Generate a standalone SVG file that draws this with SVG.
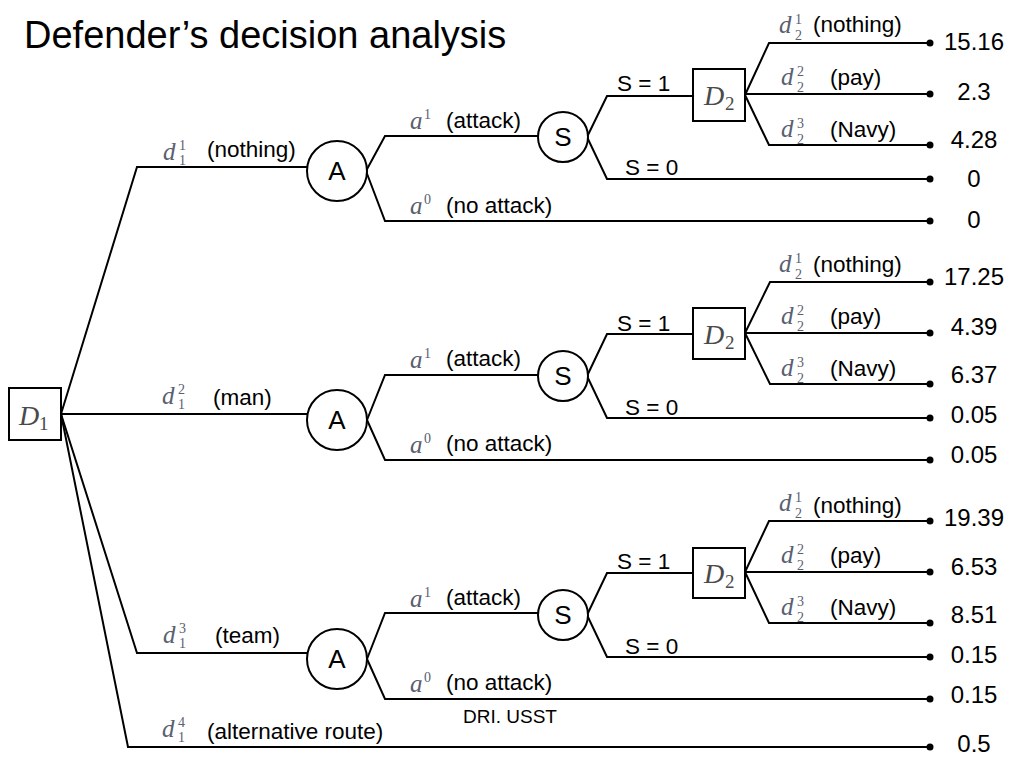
<svg xmlns="http://www.w3.org/2000/svg" width="1024" height="768" viewBox="0 0 1024 768">
<style>
.ln{fill:none;stroke:#000;stroke-width:2}
.nd{fill:#fff;stroke:#000;stroke-width:2}
.dot{fill:#000}
.t{font-family:"Liberation Sans",Arial,sans-serif;fill:#000}
.lbl{font-size:22.5px}
.val{font-size:24px;text-anchor:middle}
.nt{font-size:26px;text-anchor:middle}
.m{font-family:"Liberation Serif","Times New Roman",serif;font-style:italic;font-size:25px;fill:#596070}
.ms{font-family:"Liberation Serif","Times New Roman",serif;font-size:14px;fill:#596070}
.dm{font-family:"Liberation Serif","Times New Roman",serif;font-style:italic;font-size:28px;fill:#4a4a4a}
.ds{font-family:"Liberation Serif","Times New Roman",serif;font-size:19px;fill:#4a4a4a}
</style>
<rect width="1024" height="768" fill="#fff"/>
<text class="t" x="24" y="48" font-size="38">Defender’s decision analysis</text>

<g id="connectors">
<!-- from D1 -->
<polyline class="ln" points="61,414 137,167 308,167"/>
<polyline class="ln" points="61,414 307,414"/>
<polyline class="ln" points="61,414 137,653 307,653"/>
<polyline class="ln" points="61,414 128,747 930,747"/>
<!-- block 1 -->
<polyline class="ln" points="366,171 385,136 538,136"/>
<polyline class="ln" points="366,171 385,221 930,221"/>
<polyline class="ln" points="587,137 607,96 693,96"/>
<polyline class="ln" points="587,137 607,179 930,179"/>
<polyline class="ln" points="745,95 769,43 930,43"/>
<polyline class="ln" points="745,94 930,94"/>
<polyline class="ln" points="745,95 769,145 930,145"/>
<!-- block 2 -->
<polyline class="ln" points="367,420 385,375 538,375"/>
<polyline class="ln" points="367,420 385,460 930,460"/>
<polyline class="ln" points="587,376 607,334 693,334"/>
<polyline class="ln" points="587,376 607,418 930,418"/>
<polyline class="ln" points="745,333 770,282 930,282"/>
<polyline class="ln" points="745,333 930,333"/>
<polyline class="ln" points="745,333 770,384 930,384"/>
<!-- block 3 -->
<polyline class="ln" points="367,659 385,613 538,613"/>
<polyline class="ln" points="367,659 385,699 930,699"/>
<polyline class="ln" points="587,615 607,573 693,573"/>
<polyline class="ln" points="587,615 607,657 930,657"/>
<polyline class="ln" points="745,572 769,521 930,521"/>
<polyline class="ln" points="745,572 930,572"/>
<polyline class="ln" points="745,572 769,623 930,623"/>
<!-- terminal dots -->
<g class="dot">
<circle cx="930" cy="43" r="3.5"/><circle cx="930" cy="94" r="3.5"/><circle cx="930" cy="145" r="3.5"/><circle cx="930" cy="179" r="3.5"/><circle cx="930" cy="221" r="3.5"/>
<circle cx="930" cy="282" r="3.5"/><circle cx="930" cy="333" r="3.5"/><circle cx="930" cy="384" r="3.5"/><circle cx="930" cy="418" r="3.5"/><circle cx="930" cy="460" r="3.5"/>
<circle cx="930" cy="521" r="3.5"/><circle cx="930" cy="572" r="3.5"/><circle cx="930" cy="623" r="3.5"/><circle cx="930" cy="657" r="3.5"/><circle cx="930" cy="699" r="3.5"/>
<circle cx="930" cy="747" r="3.5"/>
</g>
</g>

<g id="edge-labels">
<!-- d1 labels -->
<text class="m" x="163" y="160">d</text><text class="ms" x="179" y="150">1</text><text class="ms" x="179" y="165">1</text>
<text class="t lbl" x="207" y="157">(nothing)</text>
<text class="m" x="162" y="404">d</text><text class="ms" x="178" y="394">2</text><text class="ms" x="178" y="409">1</text>
<text class="t lbl" x="213" y="405">(man)</text>
<text class="m" x="163" y="643">d</text><text class="ms" x="179" y="633">3</text><text class="ms" x="179" y="648">1</text>
<text class="t lbl" x="215" y="643">(team)</text>
<text class="m" x="162" y="737">d</text><text class="ms" x="178" y="727">4</text><text class="ms" x="178" y="742">1</text>
<text class="t lbl" x="207" y="739">(alternative route)</text>

<!-- block 1 -->
<text class="m" x="410" y="129">a</text><text class="ms" x="424" y="119">1</text>
<text class="t lbl" x="446" y="128">(attack)</text>
<text class="m" x="410" y="214">a</text><text class="ms" x="424" y="204">0</text>
<text class="t lbl" x="446" y="213">(no attack)</text>
<text class="t lbl" x="617" y="91">S = 1</text>
<text class="t lbl" x="625" y="175">S = 0</text>
<text class="m" x="779" y="33">d</text><text class="ms" x="795" y="24">1</text><text class="ms" x="795" y="40">2</text>
<text class="t lbl" x="813" y="32">(nothing)</text>
<text class="m" x="781" y="85">d</text><text class="ms" x="797" y="76">2</text><text class="ms" x="797" y="92">2</text>
<text class="t lbl" x="830" y="85">(pay)</text>
<text class="m" x="781" y="137">d</text><text class="ms" x="797" y="128">3</text><text class="ms" x="797" y="144">2</text>
<text class="t lbl" x="830" y="137">(Navy)</text>

<!-- block 2 -->
<text class="m" x="410" y="368">a</text><text class="ms" x="424" y="358">1</text>
<text class="t lbl" x="446" y="366">(attack)</text>
<text class="m" x="410" y="453">a</text><text class="ms" x="424" y="443">0</text>
<text class="t lbl" x="446" y="451">(no attack)</text>
<text class="t lbl" x="617" y="331">S = 1</text>
<text class="t lbl" x="625" y="415">S = 0</text>
<text class="m" x="779" y="272">d</text><text class="ms" x="795" y="263">1</text><text class="ms" x="795" y="279">2</text>
<text class="t lbl" x="813" y="272">(nothing)</text>
<text class="m" x="781" y="324">d</text><text class="ms" x="797" y="315">2</text><text class="ms" x="797" y="331">2</text>
<text class="t lbl" x="830" y="324">(pay)</text>
<text class="m" x="781" y="376">d</text><text class="ms" x="797" y="367">3</text><text class="ms" x="797" y="383">2</text>
<text class="t lbl" x="830" y="376">(Navy)</text>

<!-- block 3 -->
<text class="m" x="410" y="607">a</text><text class="ms" x="424" y="597">1</text>
<text class="t lbl" x="446" y="605">(attack)</text>
<text class="m" x="410" y="692">a</text><text class="ms" x="424" y="682">0</text>
<text class="t lbl" x="446" y="690">(no attack)</text>
<text class="t lbl" x="617" y="569">S = 1</text>
<text class="t lbl" x="625" y="654">S = 0</text>
<text class="m" x="779" y="511">d</text><text class="ms" x="795" y="502">1</text><text class="ms" x="795" y="518">2</text>
<text class="t lbl" x="813" y="513">(nothing)</text>
<text class="m" x="781" y="563">d</text><text class="ms" x="797" y="554">2</text><text class="ms" x="797" y="570">2</text>
<text class="t lbl" x="830" y="563">(pay)</text>
<text class="m" x="781" y="615">d</text><text class="ms" x="797" y="606">3</text><text class="ms" x="797" y="622">2</text>
<text class="t lbl" x="830" y="615">(Navy)</text>

<text class="t" x="463" y="723" font-size="19">DRI. USST</text>
</g>

<g id="values">
<text class="t val" x="974" y="50">15.16</text>
<text class="t val" x="974" y="100">2.3</text>
<text class="t val" x="974" y="148">4.28</text>
<text class="t val" x="974" y="187">0</text>
<text class="t val" x="974" y="228">0</text>
<text class="t val" x="974" y="285">17.25</text>
<text class="t val" x="974" y="335">4.39</text>
<text class="t val" x="974" y="383">6.37</text>
<text class="t val" x="974" y="423">0.05</text>
<text class="t val" x="974" y="463">0.05</text>
<text class="t val" x="974" y="526">19.39</text>
<text class="t val" x="974" y="575">6.53</text>
<text class="t val" x="974" y="623">8.51</text>
<text class="t val" x="974" y="663">0.15</text>
<text class="t val" x="974" y="703">0.15</text>
<text class="t val" x="974" y="752">0.5</text>
</g>

<g id="D1">
<rect class="nd" x="9" y="388" width="52" height="52"/>
<text class="dm" x="19" y="425">D</text><text class="ds" x="39" y="430">1</text>
</g>

<g id="A1"><circle class="nd" cx="337" cy="171" r="30"/><text class="t nt" x="337" y="180">A</text></g>
<g id="A2"><circle class="nd" cx="337" cy="420" r="30"/><text class="t nt" x="337" y="429">A</text></g>
<g id="A3"><circle class="nd" cx="337" cy="659" r="30"/><text class="t nt" x="337" y="668">A</text></g>

<g id="S1"><circle class="nd" cx="563" cy="137" r="25"/><text class="t nt" x="563" y="146">S</text></g>
<g id="S2"><circle class="nd" cx="563" cy="376" r="25"/><text class="t nt" x="563" y="385">S</text></g>
<g id="S3"><circle class="nd" cx="563" cy="615" r="25"/><text class="t nt" x="563" y="624">S</text></g>

<g id="D2-1"><rect class="nd" x="693" y="69" width="52" height="52"/><text class="dm" x="704" y="105">D</text><text class="ds" x="725" y="110">2</text></g>
<g id="D2-2"><rect class="nd" x="693" y="308" width="52" height="51"/><text class="dm" x="704" y="344">D</text><text class="ds" x="725" y="349">2</text></g>
<g id="D2-3"><rect class="nd" x="693" y="548" width="52" height="50"/><text class="dm" x="704" y="583">D</text><text class="ds" x="725" y="588">2</text></g>
</svg>
